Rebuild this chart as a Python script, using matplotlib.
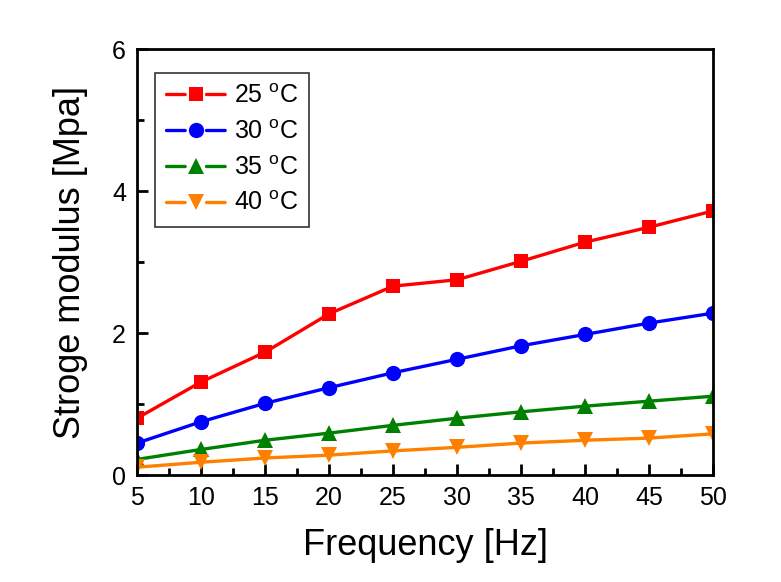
import matplotlib
matplotlib.use("Agg")
import matplotlib.pyplot as plt
from matplotlib.ticker import MultipleLocator
from matplotlib.lines import Line2D

plt.rcParams['font.family'] = ['Liberation Sans', 'DejaVu Sans']

freq = [5, 10, 15, 20, 25, 30, 35, 40, 45, 50]
t25 = [0.80, 1.31, 1.73, 2.27, 2.66, 2.75, 3.01, 3.28, 3.49, 3.72]
t30 = [0.45, 0.75, 1.01, 1.23, 1.44, 1.63, 1.82, 1.98, 2.14, 2.28]
t35 = [0.22, 0.36, 0.49, 0.59, 0.70, 0.80, 0.89, 0.97, 1.04, 1.11]
t40 = [0.11, 0.18, 0.24, 0.28, 0.34, 0.39, 0.45, 0.49, 0.52, 0.58]
labels = ['25 $^{\\mathregular{o}}$C', '30 $^{\\mathregular{o}}$C',
          '35 $^{\\mathregular{o}}$C', '40 $^{\\mathregular{o}}$C']

fig = plt.figure(figsize=(7.81, 5.82), dpi=100)
ax = fig.add_axes([0.1754, 0.1838, 0.7376, 0.732])

series = [(t25, '#ff0000', 's', 10), (t30, '#0000ff', 'o', 11),
          (t35, '#008000', '^', 12), (t40, '#ff8000', 'v', 12)]
LW = 2.4
handles = []
for (vals, col, mk, ms), lab in zip(series, labels):
    ax.plot(freq, vals, color=col, marker=mk, markersize=ms, lw=LW,
            markeredgewidth=0, solid_capstyle='round')
    handles.append(Line2D([], [], color=col, marker=mk, markersize=ms, lw=LW,
                          markeredgewidth=0, linestyle=(0, (5.6, 6.4, 5.6, 6.4)),
                          dash_capstyle='round'))

ax.set_xlim(5, 50)
ax.set_ylim(0, 6)
ax.xaxis.set_major_locator(MultipleLocator(5))
ax.xaxis.set_minor_locator(MultipleLocator(2.5))
ax.yaxis.set_major_locator(MultipleLocator(2))
ax.yaxis.set_minor_locator(MultipleLocator(1))
ax.tick_params(which='both', direction='in', top=False, right=False,
               width=2, labelsize=18, pad=8)
ax.tick_params(which='major', length=8)
ax.tick_params(which='minor', length=5)
for s in ax.spines.values():
    s.set_linewidth(2)

ax.set_xlabel('Frequency [Hz]', fontsize=26, labelpad=13)
ax.set_ylabel('Stroge modulus [Mpa]', fontsize=26, labelpad=17)

leg = ax.legend(handles, labels, loc='upper left', bbox_to_anchor=(0.031, 0.944),
                borderaxespad=0, fontsize=18,
                frameon=True, fancybox=False, edgecolor='black',
                handlelength=2.4, handletextpad=0.3, labelspacing=0.47,
                borderpad=0.45)
leg.get_frame().set_linewidth(1.2)

fig.savefig('out.png', dpi=100)
